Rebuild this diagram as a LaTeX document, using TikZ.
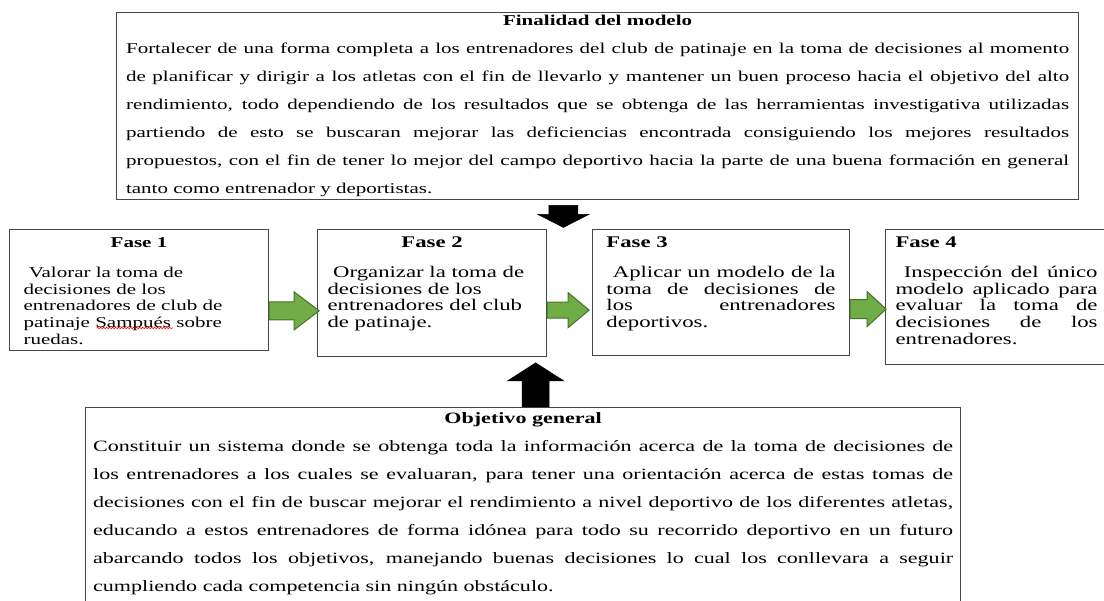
\documentclass[tikz,border=0pt]{standalone}
\usepackage{fontspec}
\setmainfont[FakeStretch=1.4]{Liberation Serif}
\usetikzlibrary{decorations.pathmorphing}

\definecolor{flechaverde}{RGB}{112,173,71}
\definecolor{bordeverde}{RGB}{72,112,44}
\definecolor{borde}{RGB}{70,70,70}

\tikzset{
  caja/.style={draw=borde,line width=1pt,anchor=north west,inner ysep=0pt,align=justify},
  fase/.style={caja,text height=14.4pt},
  verde/.style={draw=bordeverde,fill=flechaverde,line width=0.8pt},
  negra/.style={draw=black,fill=black,line width=0.5pt},
  onda/.style={red,line width=0.5pt,decorate,decoration={snake,amplitude=0.6pt,segment length=2.4pt}},
}

\begin{document}
\begin{tikzpicture}
\useasboundingbox (0,0) rectangle (31.04,-16.87);

% finalidad
\node[caja,text width=754.4pt,inner xsep=7.6pt,text height=10.4pt,text depth=139.2pt,
  font=\fontsize{12}{22.4}\selectfont] (fin) at (3.26,-0.34)
{{\centering\bfseries Finalidad del modelo\par}
Fortalecer de una forma completa a los entrenadores del club de patinaje en la toma de decisiones al momento\linebreak
de planificar y dirigir a los atletas con el fin de llevarlo y mantener un buen proceso hacia el objetivo del alto\linebreak
rendimiento, todo dependiendo de los resultados que se obtenga de las herramientas investigativa utilizadas\linebreak
partiendo de esto se buscaran mejorar las deficiencias encontrada consiguiendo los mejores resultados\linebreak
propuestos, con el fin de tener lo mejor del campo deportivo hacia la parte de una buena formación en general\linebreak
tanto como entrenador y deportistas.};

% fases
\node[fase,text width=184.8pt,inner xsep=11.2pt,text depth=82.4pt,
  font=\fontsize{12}{13.3}\selectfont] (f1) at (0.25,-6.44)
{{\centering\bfseries Fase 1\par}\vspace{10.7pt}
\ Valorar la toma de\\
decisiones de los\\
entrenadores de club de\\
patinaje Sampués sobre\\
ruedas.};
\draw[onda] (2.72,-9.22) -- (4.87,-9.22);

\node[fase,text width=167.2pt,inner xsep=8pt,text depth=87.2pt,
  font=\fontsize{13}{13.3}\selectfont] (f2) at (8.91,-6.44)
{{\centering\bfseries Fase 2\par}\vspace{10.7pt}
\ Organizar la toma de\\
decisiones de los\\
entrenadores del club\\
de patinaje.};

\node[fase,text width=183.2pt,inner xsep=11.2pt,text depth=86.4pt,
  font=\fontsize{13}{13.3}\selectfont] (f3) at (16.64,-6.44)
{{\bfseries Fase 3\par}\vspace{10.7pt}
\ Aplicar un modelo de la\linebreak
toma de decisiones de\linebreak
los entrenadores\linebreak
deportivos.};

\node[fase,text width=161.6pt,inner xsep=8pt,text depth=93.6pt,
  font=\fontsize{13}{13.3}\selectfont] (f4) at (24.88,-6.44)
{{\bfseries Fase 4\par}\vspace{10.7pt}
\ Inspección del único\linebreak
modelo aplicado para\linebreak
evaluar la toma de\linebreak
decisiones de los\linebreak
entrenadores.};

% objetivo
\node[caja,text width=688pt,inner xsep=6pt,text height=12.8pt,text depth=170pt,
  font=\fontsize{12.6}{22.4}\selectfont] (obj) at (2.39,-11.44)
{{\centering\bfseries Objetivo general\par}
Constituir un sistema donde se obtenga toda la información acerca de la toma de decisiones de\linebreak
los entrenadores a los cuales se evaluaran, para tener una orientación acerca de estas tomas de\linebreak
decisiones con el fin de buscar mejorar el rendimiento a nivel deportivo de los diferentes atletas,\linebreak
educando a estos entrenadores de forma idónea para todo su recorrido deportivo en un futuro\linebreak
abarcando todos los objetivos, manejando buenas decisiones lo cual los conllevara a seguir\linebreak
cumpliendo cada competencia sin ningún obstáculo.};

% flechas
\coordinate (v1) at (f1.east |- 0,-8.74);
\coordinate (v2) at (f2.east |- 0,-8.72);
\coordinate (v3) at (f3.east |- 0,-8.69);
\coordinate (baja) at (15.84,0 |- fin.south);
\coordinate (sube) at (15.06,0 |- obj.north);

\filldraw[verde] (v1) ++(0,0.253) -- ++(0.703,0) -- ++(0,0.281) -- ++(0.703,-0.534)
  -- ++(-0.703,-0.534) -- ++(0,0.281) -- ++(-0.703,0) -- cycle;
\filldraw[verde] (v2) ++(0,0.225) -- ++(0.59,0) -- ++(0,0.267) -- ++(0.59,-0.492)
  -- ++(-0.59,-0.492) -- ++(0,0.267) -- ++(-0.59,0) -- cycle;
\filldraw[verde] (v3) ++(0,0.267) -- ++(0.478,0) -- ++(0,0.225) -- ++(0.534,-0.492)
  -- ++(-0.534,-0.492) -- ++(0,0.225) -- ++(-0.478,0) -- cycle;

\filldraw[negra] (baja) ++(-0.408,-0.141) -- ++(0.816,0) -- ++(0,-0.253) -- ++(0.309,0)
  -- ++(-0.717,-0.366) -- ++(-0.717,0.366) -- ++(0.309,0) -- cycle;
\filldraw[negra] (sube) ++(-0.380,0) -- ++(0,0.731) -- ++(-0.407,0) -- ++(0.787,0.506)
  -- ++(0.787,-0.506) -- ++(-0.407,0) -- ++(0,-0.731) -- cycle;

\end{tikzpicture}
\end{document}
